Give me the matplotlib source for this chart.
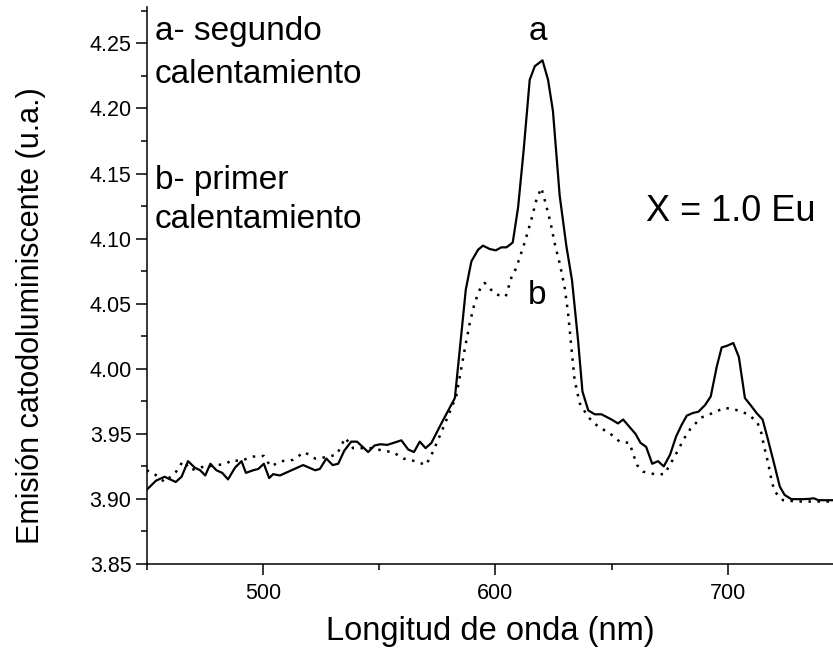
import matplotlib
matplotlib.use("Agg")
import matplotlib.pyplot as plt
from matplotlib.ticker import MultipleLocator

plt.rcParams['font.family'] = ['Liberation Sans', 'DejaVu Sans']

# curve a - segundo calentamiento (solid)
wl_a = [450, 454, 457.7, 462.5, 465, 467.8, 470.7, 473, 475.2, 477.4, 480, 482.5,
        485, 488, 490.8, 492.7, 495.8, 498, 500.4, 502.7, 504.4, 507.3, 517.3,
        522.5, 524.5, 527.3, 530, 532.4, 535, 538, 540.5, 545.3, 548, 550.5,
        553.5, 559.6, 562.5, 565, 567.5, 570, 572.5, 576.5, 582.6, 584.7, 587.3,
        589.7, 592.6, 594.7, 597.6, 600.2, 602.6, 604.8, 607.5, 609.8, 612.2,
        614.8, 617, 620.3, 622.7, 624.8, 627.7, 630.6, 633, 635.6, 637.5, 640,
        642.8, 645.7, 650, 652.8, 655, 660.3, 662.5, 664.9, 667.5, 670, 672.5,
        675.2, 677.8, 680.2, 682.4, 685, 687.4, 690.2, 692.7, 695.3, 697.4,
        699.8, 702.4, 704.8, 707.4, 710.3, 712.4, 715, 717.4, 719.9, 722.4,
        724.5, 727.4, 732.4, 735, 737, 739, 746]
em_a = [3.907, 3.914, 3.917, 3.913, 3.917, 3.929, 3.924, 3.922, 3.918, 3.927, 3.922, 3.920,
        3.915, 3.924, 3.929, 3.920, 3.922, 3.923, 3.927, 3.916, 3.919, 3.918, 3.926,
        3.922, 3.923, 3.931, 3.926, 3.927, 3.937, 3.944, 3.944, 3.936, 3.941, 3.942,
        3.9415, 3.945, 3.938, 3.936, 3.944, 3.939, 3.943, 3.957, 3.9775, 4.0146, 4.0608,
        4.0825, 4.0915, 4.0946, 4.092, 4.091, 4.0933, 4.0933, 4.097, 4.124, 4.168,
        4.222, 4.2325, 4.237, 4.222, 4.198, 4.133, 4.094, 4.068, 4.022, 3.9825, 3.968,
        3.965, 3.965, 3.961, 3.958, 3.961, 3.950, 3.943, 3.940, 3.927, 3.929, 3.925,
        3.934, 3.948, 3.957, 3.964, 3.966, 3.967, 3.972, 3.9787, 4.0018, 4.0164,
        4.0177, 4.0198, 4.009, 3.9775, 3.971, 3.966, 3.961, 3.945, 3.9275, 3.9095,
        3.903, 3.8998, 3.8998, 3.900, 3.9005, 3.899, 3.899]

# curve b - primer calentamiento (dotted)
wl_b = [450, 452.7, 457.7, 462.7, 465.6, 469.2, 472, 476, 480.6, 484, 487, 490,
        495.8, 500.4, 503.3, 508, 513, 517.8, 522.5, 527, 531.8, 535.4, 538.8,
        547.5, 551.6, 555.9, 560.5, 565.5, 570.2, 573.1, 576, 580, 583.2, 586.8,
        589, 591.1, 593.3, 595.4, 598, 600.4, 604.5, 606.9, 609, 612.6, 615.5,
        617.7, 619.8, 621.6, 623.8, 625.5, 627.7, 629.8, 631.3, 632.7, 634.1,
        636.3, 639.9, 644.2, 649.2, 653.5, 657.8, 659.2, 661, 663.5, 668.5,
        672.8, 675.7, 678.5, 681.1, 684, 688.6, 693.6, 698.6, 703.4, 708.3,
        712.6, 714.5, 715.5, 717.4, 718.8, 720.2, 723.8, 730, 746]
em_b = [3.922, 3.920, 3.913, 3.921, 3.929, 3.922, 3.924, 3.925, 3.926, 3.927, 3.930, 3.929,
        3.9325, 3.933, 3.925, 3.929, 3.930, 3.936, 3.931, 3.932, 3.934, 3.947, 3.939,
        3.939, 3.937, 3.936, 3.931, 3.929, 3.926, 3.936, 3.948, 3.965, 3.979, 4.0146,
        4.035, 4.0505, 4.0608, 4.066, 4.061, 4.057, 4.0556, 4.070, 4.0775, 4.0967, 4.1146,
        4.130, 4.139, 4.1275, 4.112, 4.0967, 4.081, 4.063, 4.043, 4.017, 3.9915,
        3.9736, 3.963, 3.9556, 3.9505, 3.944, 3.943, 3.935, 3.926, 3.921, 3.919,
        3.919, 3.928, 3.937, 3.946, 3.954, 3.9625, 3.966, 3.970, 3.9685, 3.9654,
        3.9595, 3.9505, 3.9415, 3.9275, 3.9146, 3.9056, 3.899, 3.898, 3.898]

fig = plt.figure(figsize=(8.33, 6.58), dpi=100)
ax = fig.add_axes([0.1761, 0.1429, 1 - 0.1761, 0.8465])

ax.plot(wl_a, em_a, color='black', lw=1.6, linestyle='-')
ax.plot(wl_b, em_b, color='black', lw=1.8, linestyle=(0, (1, 2.6)))

ax.set_xlim(450, 745.3)
ax.set_ylim(3.85, 4.278)

ax.xaxis.set_major_locator(MultipleLocator(100))
ax.xaxis.set_minor_locator(MultipleLocator(50))
ax.yaxis.set_major_locator(MultipleLocator(0.05))
ax.yaxis.set_minor_locator(MultipleLocator(0.025))
ax.yaxis.set_major_formatter(plt.FormatStrFormatter('%.2f'))

ax.tick_params(which='major', direction='out', length=8, width=1.1, labelsize=15.5)
ax.tick_params(which='minor', direction='out', length=4.5, width=1.1)
ax.tick_params(axis='x', pad=6)
ax.tick_params(axis='y', pad=3)

for side in ['top', 'right']:
    ax.spines[side].set_visible(False)
for side in ['left', 'bottom']:
    ax.spines[side].set_linewidth(1.1)

ax.set_xlabel('Longitud de onda (nm)', fontsize=23.5, labelpad=8)
ax.set_ylabel('Emisión catodoluminiscente (u.a.)', fontsize=22, labelpad=31, y=0.445)

ax.text(453.5, 4.259, 'a- segundo', fontsize=24, va='center', ha='left')
ax.text(453.5, 4.226, 'calentamiento', fontsize=24, va='center', ha='left')
ax.text(453.5, 4.145, 'b- primer', fontsize=24, va='center', ha='left')
ax.text(453.5, 4.115, 'calentamiento', fontsize=24, va='center', ha='left')
ax.text(701.3, 4.121, 'X = 1.0 Eu', fontsize=26, va='center', ha='center')
ax.text(618.4, 4.259, 'a', fontsize=24, va='center', ha='center')
ax.text(618, 4.056, 'b', fontsize=24, va='center', ha='center')

fig.savefig('out.png', dpi=100)
